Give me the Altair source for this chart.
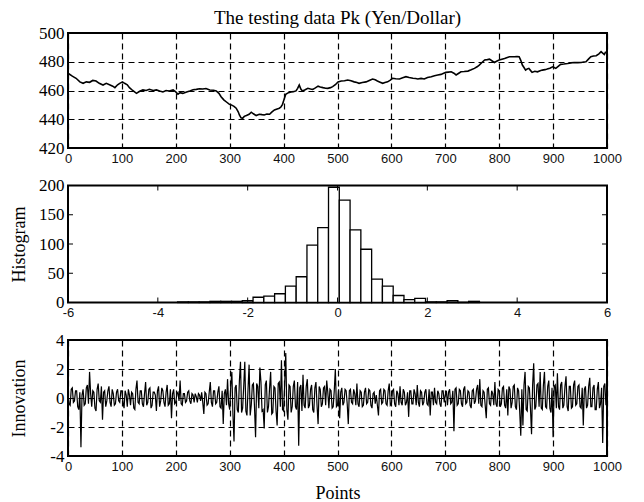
import altair as alt
import pandas as pd

# ---------------- data ----------------
price_t = [0, 8, 15, 22, 28, 34, 40, 46, 52, 58, 65, 71, 77, 83, 87, 92, 96, 101, 105, 110,
           114, 120, 127, 133, 139, 145, 151, 158, 164, 170, 176, 182, 188, 195, 200, 204, 208, 213, 220, 226,
           232, 238, 244, 250, 256, 263, 270, 275, 280, 284, 289, 294, 299, 303, 308, 312, 316, 318, 321, 324,
           327, 331, 336, 340, 344, 349, 355, 360, 364, 369, 374, 378, 383, 388, 392, 395, 398, 401, 404, 409,
           414, 418, 423, 426, 429, 432, 435, 440, 445, 450, 454, 459, 464, 468, 473, 478, 482, 487, 491, 496,
           501, 507, 513, 519, 525, 531, 536, 540, 546, 553, 559, 565, 570, 574, 579, 584, 588, 593, 598, 602,
           608, 615, 621, 627, 633, 640, 645, 649, 655, 661, 667, 674, 680, 686, 692, 697, 701, 706, 711, 716,
           720, 725, 729, 735, 742, 748, 754, 759, 763, 768, 773, 778, 782, 787, 791, 796, 800, 805, 810, 815,
           819, 824, 828, 833, 837, 840, 843, 846, 849, 852, 855, 858, 861, 866, 871, 876, 880, 885, 889, 894,
           899, 902, 905, 910, 914, 920, 927, 933, 939, 946, 952, 957, 961, 966, 970, 975, 980, 985, 989, 992,
           995, 997, 999]
price_v = [472, 470, 468.5, 466, 465, 466, 465.7, 467, 466.6, 465, 463.8, 465, 464, 463, 462, 464, 465, 466, 465, 464,
           462, 460, 458, 459.5, 460.4, 460, 460.8, 460, 460.4, 459.6, 459, 460, 459.7, 460.4, 459, 457.4, 458.5, 458, 459, 459.7,
           460.5, 460.8, 461.2, 461, 461.4, 460.4, 460.2, 459.7, 458, 455.7, 453.5, 452, 450.5, 450, 449, 447.7, 445, 443, 441, 440.7,
           442, 442.6, 443.5, 444.9, 443.8, 442.6, 443.5, 443.2, 443, 443.6, 443.5, 445, 446.5, 447.2, 447.7, 448.5, 450.4, 454, 457.4, 458.5,
           459, 459.2, 459.7, 461.5, 463.8, 461, 459.7, 460.5, 461.5, 461, 460.8, 461.8, 463, 462.5, 462, 461.6, 461.5, 462, 462.7, 464,
           466, 466.6, 466.8, 467.3, 466.8, 466, 465.5, 465, 465.6, 466, 467, 468, 467.4, 466.6, 465.8, 465, 465.5, 466, 467.2, 468.5,
           468.2, 468, 468.8, 469.6, 469, 468.5, 468.3, 468, 468.4, 468, 469, 469.6, 470.3, 470.8, 471.2, 472, 472.6, 472.8, 473, 472,
           470.8, 472, 473, 473.2, 473.5, 474.4, 475.4, 476.5, 477.7, 479.5, 481.2, 481.5, 481.8, 480.5, 479.5, 480.5, 481.2, 481.8, 482.3, 483,
           483.5, 483.5, 483.5, 483.6, 483.5, 481, 477.7, 476, 474.2, 475, 475.4, 474, 472.6, 473.4, 473, 473.8, 474.2, 474.5, 474.9, 475.5,
           476.5, 476, 475.4, 477, 478.2, 478.4, 478.8, 479.2, 479.5, 479.4, 479.5, 479.8, 480, 482, 483.5, 484, 484.2, 485.5, 487, 486,
           485, 486.5, 486.5]

# innovation, read at steps t = 0, 4, 8, ...
innov_t = list(range(0, 1000, 4))
innov_v = [
    0.3, -0.5, 0.7, -0.2, 0.5, -0.8, -3.4, 0.6, -0.4, 0.9, 1.8, -0.6, 0.4, -0.9, 1.0, -0.3, -1.5, 0.5, -0.2, 0.8, -0.6, 0.3, -0.4, 0.6, -0.3,
    0.5, -0.7, 0.2, 0.6, -0.5, 0.3, -0.8, 1.2, -0.4, 0.5, -0.6, 1.1, -0.3, 0.7, -0.5, 0.4, -0.9, 0.8, -0.2, 0.5, -0.6, 0.9, -0.4, -1.4, 0.6,
    -0.3, 0.4, 1.2, -0.5, 0.3, -0.2, 0.5, -0.4, 0.2, 0.3, -0.3, 0.2, 0.4, -1.1, 0.3, -0.4, 1.1, -0.6, 0.5, -0.3, 0.8, -0.7, -1.8, 0.6, 1.3,
    -0.8, 1.8, -3.0, 0.9, -1.0, 2.5, -0.7, 2.5, -1.2, 2.3, -0.5, 1.0, -2.7, 0.8, 2.1, -0.9, -2.1, 1.2, -0.6, 1.8, -1.0, 0.7, -1.9, 1.1, 2.6,
    -0.9, 3.1, -1.5, 0.8, -0.6, 1.2, -0.8, -3.3, 0.9, 1.6, -0.7, 1.3, -0.5, 0.9, -1.0, 1.1, -1.8, 0.6, -0.4, 0.8, 1.2, -0.7, 0.5, -0.6, 2.0,
    -0.5, -1.4, 0.7, -0.3, 0.5, -1.8, 0.6, -0.4, 0.3, 1.0, -0.6, 0.4, -0.5, 0.7, -0.3, 0.5, -0.7, 0.4, 0.2, -1.2, 0.6, -0.3, 0.5, -0.5, 1.0,
    -0.4, 0.6, -0.6, 0.3, 0.8, -0.5, 0.4, -0.3, -1.3, 0.5, -0.4, 0.3, 0.9, -0.6, 0.4, -0.3, 0.6, -0.5, -1.2, 0.4, 0.7, -0.4, 0.3, -0.6, 0.5,
    0.2, -0.5, 0.6, -0.3, -2.3, 0.7, -0.4, 0.5, -0.6, 0.8, -0.3, 0.4, -0.7, 0.6, -0.2, 0.9, 1.3, -0.6, 0.4, -1.4, 0.7, -0.5, 0.3, 1.1, -0.6,
    0.5, -0.4, 0.8, -0.7, -1.2, 0.6, -0.3, 0.9, -0.8, 0.5, -2.6, -1.9, 1.8, -0.9, 0.7, -2.5, 2.4, -0.6, 1.0, 1.8, -0.8, 1.8, -0.7, 1.2, -1.0,
    -2.7, 0.9, 1.7, -0.8, 1.1, -0.5, 1.5, -0.9, 0.8, -0.6, 1.2, -0.4, 0.9, -0.7, -1.9, 0.8, -0.5, 1.4, -0.6, 0.9, -0.8, 1.1, -0.4, -3.1, 1.0,
]
# innovation, read between them at t = 2, 6, 10, ...
innov_t_mid = list(range(2, 1000, 4))
innov_v_mid = [
    -0.4, 0.6, -0.3, 0.5, -0.6, 0.4, 0.2, -0.5, 0.7, -0.4, 0.3, 0.5, -0.7, 0.6, -0.2, 0.8, 0.4, -0.6, 0.5, -0.3, 0.6, -0.5, 0.4, -0.2, 0.5,
    -0.3, 0.5, -0.6, 0.2, 0.4, -0.7, 0.6, -0.3, 0.5, -0.4, 0.3, -0.5, 0.6, -0.7, 0.4, 0.2, 0.5, -0.6, 0.7, -0.3, 0.4, -0.5, 0.6, 0.3, -0.4,
    0.3, -0.2, -0.4, 0.3, -0.3, 0.4, -0.2, 0.3, -0.3, 0.1, 0.3, -0.2, -0.3, 0.4, -0.5, 0.4, -0.3, 0.5, -0.4, 0.4, -0.6, 0.5, 0.3, -0.5, -0.4,
    0.9, -1.1, 0.7, -0.8, 1.2, -1.0, 0.8, -0.9, 0.6, -1.2, 0.9, -0.6, 1.0, -0.7, 1.1, -0.8, 0.9, -1.0, 0.7, -1.1, 0.8, -0.9, 1.0, -0.6, -0.8,
    1.0, -0.8, 0.9, -1.0, 0.8, -0.6, 1.1, 0.7, -0.9, -0.5, 0.8, -0.7, 0.6, -0.8, 0.7, -0.5, 0.8, -0.6, 0.7, -0.5, 0.4, 0.6, -0.7, 0.5, -0.6,
    0.6, 0.4, -0.5, 0.6, -0.4, 0.5, -0.3, 0.6, -0.5, -0.4, 0.5, -0.6, 0.4, -0.4, 0.6, -0.5, 0.3, -0.4, -0.5, 0.5, -0.4, 0.6, -0.4, 0.5, -0.5,
    0.5, -0.4, 0.5, -0.5, -0.3, 0.6, -0.5, 0.4, 0.5, -0.4, 0.6, -0.5, -0.3, 0.5, -0.5, 0.4, -0.4, 0.6, 0.4, -0.5, -0.3, 0.5, -0.4, 0.5, -0.3,
    0.5, 0.4, -0.4, 0.5, 0.6, -0.5, 0.6, -0.4, 0.6, -0.4, 0.5, -0.5, 0.5, -0.4, 0.6, -0.4, -0.5, 0.5, -0.5, 0.6, -0.4, 0.5, -0.5, -0.4, 0.6,
    -0.6, 0.7, -0.5, 0.6, 0.8, -0.7, 0.8, -0.6, 0.7, -0.9, 0.6, 0.9, -0.8, 0.8, -0.7, 0.9, -0.8, 0.9, -0.6, -0.7, 0.9, -0.6, 0.8, -0.7, 0.7,
    0.8, -0.7, -0.6, 0.9, -0.7, 0.8, -0.6, 0.8, -0.7, 0.9, -0.5, 0.8, -0.6, 0.7, 0.6, -0.7, 0.8, -0.6, 0.7, -0.8, 0.6, -0.7, 0.7, 0.8, -0.5,
]

hist_left = [-3.56, -3.32, -3.08, -2.84, -2.60, -2.36, -2.12, -1.88, -1.64, -1.40, -1.16, -0.92, -0.68, -0.44,
             -0.20, 0.04, 0.28, 0.52, 0.76, 1.00, 1.24, 1.48, 1.72, 1.96, 2.20, 2.44, 2.68, 2.92]
hist_right = [-3.32, -3.08, -2.84, -2.60, -2.36, -2.12, -1.88, -1.64, -1.40, -1.16, -0.92, -0.68, -0.44, -0.20,
              0.04, 0.28, 0.52, 0.76, 1.00, 1.24, 1.48, 1.72, 1.96, 2.20, 2.44, 2.68, 2.92, 3.16]
hist_count = [1, 1, 1, 2, 2, 2, 3, 9, 11, 15, 28, 44, 98, 128,
              197, 175, 124, 91, 40, 28, 12, 5, 7, 1, 1, 3, 0, 2]

time_ticks = [0, 100, 200, 300, 400, 500, 600, 700, 800, 900, 1000]
price_ticks = [420, 440, 460, 480, 500]
hist_xticks = [-6, -4, -2, 0, 2, 4, 6]
hist_yticks = [0, 50, 100, 150, 200]
innov_ticks = [-4, -2, 0, 2, 4]

SERIF = "Liberation Serif"
SANS = "Liberation Sans"
W = 539
H_TOP, H_MID, H_BOT = 115, 117, 116

df_price = pd.DataFrame({"t": price_t, "v": price_v})
df_innov = pd.concat([
    pd.DataFrame({"t": innov_t, "v": innov_v}),
    pd.DataFrame({"t": innov_t_mid, "v": innov_v_mid}),
]).sort_values("t").reset_index(drop=True)
df_hist = pd.DataFrame({"left": hist_left, "right": hist_right, "count": hist_count})

GRID = dict(gridColor="black", gridDash=[6, 4], gridWidth=1.2, gridOpacity=1)


def xaxis(values, grid, title=None, **kw):
    g = GRID if grid else {}
    return alt.Axis(values=values, grid=grid, title=title, labelFont=SANS, labelFontSize=13,
                    labelColor="#111", labelPadding=4, ticks=False, domain=False, labelFlush=False,
                    labelOverlap=False, labelExpr="'' + datum.value", **g, **kw)


def yaxis(values, grid, title=None, height=100, **kw):
    g = GRID if grid else {}
    extra = {}
    if title is not None:
        extra = dict(titleFont=SERIF, titleFontSize=18, titleFontWeight="normal", titleColor="black",
                     titleX=-40, titleY=height / 2)
    return alt.Axis(values=values, grid=grid, title=title, labelFont=SERIF, labelFontSize=17,
                    labelColor="black", labelPadding=4, ticks=False, domain=False, labelOverlap=False,
                    labelExpr="'' + datum.value", **g, **extra, **kw)


top = alt.Chart(df_price).mark_line(color="black", strokeWidth=1.6).encode(
    x=alt.X("t:Q", scale=alt.Scale(domain=[0, 1000], nice=False), axis=xaxis(time_ticks, True)),
    y=alt.Y("v:Q", scale=alt.Scale(domain=[420, 500], nice=False), axis=yaxis(price_ticks, True)),
).properties(
    width=W, height=H_TOP,
    title=alt.TitleParams(text="The testing data Pk (Yen/Dollar)", font=SERIF, fontSize=19,
                          fontWeight="normal", color="black", anchor="middle", offset=-4),
)

xs = alt.Scale(domain=[-6, 6], nice=False)
ys = alt.Scale(domain=[0, 200], nice=False)
hist_x_axis = xaxis(hist_xticks, False)
hist_y_axis = yaxis(hist_yticks, False, title="Histogram", height=H_MID)
bars = alt.Chart(df_hist).mark_rect(fill="white", stroke="black", strokeWidth=1.3).encode(
    x=alt.X("left:Q", scale=xs, axis=hist_x_axis),
    x2="right:Q",
    y=alt.Y("count:Q", scale=ys, axis=hist_y_axis),
    y2=alt.datum(0),
)
df_hx = pd.DataFrame({"v": hist_xticks})
df_hy = pd.DataFrame({"v": hist_yticks})
tick_b = alt.Chart(df_hx).mark_rule(color="black", strokeWidth=1).encode(
    x=alt.X("v:Q", scale=xs, axis=hist_x_axis), y=alt.value(H_MID), y2=alt.value(H_MID - 5))
tick_t = alt.Chart(df_hx).mark_rule(color="black", strokeWidth=1).encode(
    x=alt.X("v:Q", scale=xs, axis=hist_x_axis), y=alt.value(0), y2=alt.value(5))
tick_l = alt.Chart(df_hy).mark_rule(color="black", strokeWidth=1).encode(
    y=alt.Y("v:Q", scale=ys, axis=hist_y_axis), x=alt.value(0), x2=alt.value(5))
tick_r = alt.Chart(df_hy).mark_rule(color="black", strokeWidth=1).encode(
    y=alt.Y("v:Q", scale=ys, axis=hist_y_axis), x=alt.value(W), x2=alt.value(W - 5))
mid = alt.layer(bars, tick_b, tick_t, tick_l, tick_r).properties(width=W, height=H_MID)

bot = alt.Chart(df_innov).mark_line(color="black", strokeWidth=1.2).encode(
    x=alt.X("t:Q", scale=alt.Scale(domain=[0, 1000], nice=False),
            axis=xaxis(time_ticks, True, title="Points", titleFont=SERIF, titleFontSize=18,
                       titleFontWeight="normal", titleColor="black", titleY=28, titleBaseline="top")),
    y=alt.Y("v:Q", scale=alt.Scale(domain=[-4, 4], nice=False),
            axis=yaxis(innov_ticks, True, title="Innovation", height=H_BOT)),
).properties(width=W, height=H_BOT)

chart = alt.vconcat(top, mid, bot, spacing=37.5, bounds="flush").properties(
    padding={"left": 0, "top": 0, "right": 5, "bottom": 0},
    background="white",
).configure_view(
    stroke="black", strokeWidth=2
)

chart.save("out.html", embed_options={"renderer": "svg", "actions": False})
